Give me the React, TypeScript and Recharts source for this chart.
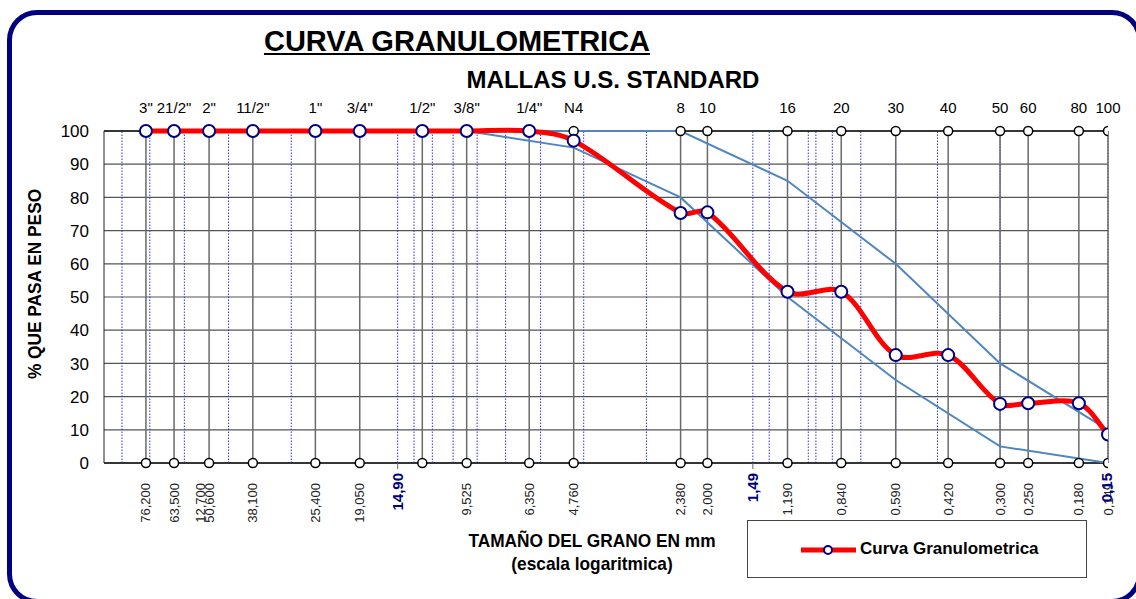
import React from 'react'
import {
  ComposedChart, Line, Scatter, XAxis, YAxis, CartesianGrid, ReferenceLine,
} from 'recharts'

const FONT = "'Liberation Sans', Arial, Helvetica, sans-serif"
const NAVY = '#000080'

// mallas (tamices) y su abertura en mm
const sieveNames = ['3"', '21/2"', '2"', '11/2"', '1"', '3/4"', '1/2"', '3/8"', '1/4"', 'N4', '8', '10', '16', '20', '30', '40', '50', '60', '80', '100']
const sieveSizes = [76.2, 63.5, 50.6, 38.1, 25.4, 19.05, 12.7, 9.525, 6.35, 4.76, 2.38, 2.0, 1.19, 0.84, 0.59, 0.42, 0.3, 0.25, 0.18, 0.149]
const sizeLabels = ['76,200', '63,500', '50,600', '38,100', '25,400', '19,050', '12,700', '9,525', '6,350', '4,760', '2,380', '2,000', '1,190', '0,840', '0,590', '0,420', '0,300', '0,250', '0,180', '0,149']
// % que pasa
const passing = [100, 100, 100, 100, 100, 100, 100, 100, 100, 97.1, 75.3, 75.5, 51.6, 51.6, 32.5, 32.5, 17.8, 18.0, 18.0, 8.6]

// limites (huso)
const limitSizes = [9.525, 4.76, 2.38, 1.19, 0.59, 0.3, 0.149]
const lowerLimit = [100, 95, 80, 50, 25, 5, 0]
const upperLimit = [100, 100, 100, 85, 60, 30, 10]

// D60 / D30 / D10 marcados en azul
const dSizes = [14.9, 1.49, 0.15]
const dLabels = ['14,90', '1,49', '0,15']

// lineas punteadas azules
const minorLines = [89, 74.3, 59.4, 44.6, 29.7, 14.9, 13.4, 11.9, 10.4, 8.9, 7.4, 5.9, 4.46, 2.97, 1.49, 1.34, 1.19, 1.04, 0.99, 0.89, 0.74, 0.59, 0.45, 0.3, 0.149]

const yTicks = [0, 10, 20, 30, 40, 50, 60, 70, 80, 90, 100]

const curveData = sieveSizes.map((size, i) => ({ size, pct: passing[i] }))
const lowerData = limitSizes.map((size, i) => ({ size, pct: lowerLimit[i] }))
const upperData = limitSizes.map((size, i) => ({ size, pct: upperLimit[i] }))
const topDots = sieveSizes.map((size) => ({ size, pct: 100 }))
const bottomDots = sieveSizes.map((size) => ({ size, pct: 0 }))
const bottomTicks = [...sieveSizes.filter((s) => s !== 12.7), ...dSizes]

// suavizado tipo Excel: bezier con tangentes de vecinos, escaladas por largo de tramo
function smoothCurve(context: any) {
  let pts: number[][] = []
  const dist = (a: number[], b: number[]) => Math.hypot(b[0] - a[0], b[1] - a[1]) || 1e-6
  return {
    areaStart() {},
    areaEnd() {},
    lineStart() { pts = [] },
    point(x: number, y: number) { pts.push([+x, +y]) },
    lineEnd() {
      if (!pts.length) return
      context.moveTo(pts[0][0], pts[0][1])
      for (let i = 0; i < pts.length - 1; i++) {
        const p0 = pts[i - 1] || pts[i]
        const p1 = pts[i]
        const p2 = pts[i + 1]
        const p3 = pts[i + 2] || p2
        const d01 = i > 0 ? dist(p0, p1) : 0
        const d12 = dist(p1, p2)
        const d23 = i + 2 < pts.length ? dist(p2, p3) : 0
        const a = d12 / (d01 + d12) / 3
        const b = d12 / (d12 + d23) / 3
        context.bezierCurveTo(
          p1[0] + (p2[0] - p0[0]) * a, p1[1] + (p2[1] - p0[1]) * a,
          p2[0] - (p3[0] - p1[0]) * b, p2[1] - (p3[1] - p1[1]) * b,
          p2[0], p2[1],
        )
      }
    },
  }
}

const TopTick = ({ x, payload }: any) => {
  const i = sieveSizes.indexOf(payload.value)
  return (
    <text x={x} y={113} textAnchor="middle" fontSize={15} fontFamily={FONT} fill="#000">
      {sieveNames[i]}
    </text>
  )
}

const BottomTick = ({ x, payload }: any) => {
  const v = payload.value
  const d = dSizes.indexOf(v)
  if (d >= 0) {
    return (
      <g>
        {v !== 0.15 && <line x1={x} x2={x} y1={463} y2={469} stroke="#666" />}
        <text transform={`translate(${x},473) rotate(-90)`} textAnchor="end" dominantBaseline="central"
          fontSize={15} fontWeight="bold" fontFamily={FONT} fill={NAVY}>
          {dLabels[d]}
        </text>
      </g>
    )
  }
  const i = sieveSizes.indexOf(v)
  return (
    <g>
      {v === 50.6 && (
        <text transform={`translate(${x - 9},483) rotate(-90)`} textAnchor="end" dominantBaseline="central"
          fontSize={13} fontFamily={FONT} fill="#222">
          {sizeLabels[6]}
        </text>
      )}
      <text transform={`translate(${x},483) rotate(-90)`} textAnchor="end" dominantBaseline="central"
        fontSize={13} fontFamily={FONT} fill="#222">
        {sizeLabels[i]}
      </text>
    </g>
  )
}

const YTick = ({ y, payload }: any) => (
  <text x={89} y={y} dy="0.36em" textAnchor="end" fontSize={17} fontFamily={FONT} fill="#000">
    {payload.value}
  </text>
)

const ringDot = (props: any) => (
  <circle cx={props.cx} cy={props.cy} r={4.5} fill="#fff" stroke="#000" strokeWidth={1.5} />
)

export default function App() {
  const axisProps = {
    type: 'number' as const,
    dataKey: 'size',
    scale: 'log' as const,
    domain: [0.149, 100],
    reversed: true,
    allowDataOverflow: true,
    axisLine: false,
    tickLine: false,
    interval: 0 as const,
  }

  return (
    <div style={{ position: 'fixed', left: 0, top: 0, width: 1136, height: 599, overflow: 'hidden', background: '#fff', fontFamily: FONT }}>
      <div style={{ position: 'absolute', left: 7, top: 10, width: 1135, height: 594, border: `5px solid ${NAVY}`, borderRadius: 30, boxSizing: 'border-box' }} />

      <div style={{ position: 'absolute', left: 0, top: 0 }}>
        <ComposedChart width={1136} height={599} margin={{ top: 101, right: 28, bottom: 76, left: 44 }}>
          <CartesianGrid vertical={false} stroke="#555" strokeWidth={1.2} xAxisId="bottom" />
          <XAxis {...axisProps} xAxisId="top" orientation="top" height={30} ticks={sieveSizes} tick={<TopTick />} />
          <XAxis {...axisProps} xAxisId="bottom" orientation="bottom" height={60} ticks={bottomTicks} tick={<BottomTick />} />
          <YAxis dataKey="pct" type="number" domain={[0, 100]} ticks={yTicks} width={60} axisLine={{ stroke: '#222' }} tickLine={false} tick={<YTick />} />

          {minorLines.map((v) => (
            <ReferenceLine key={'m' + v} xAxisId="bottom" x={v} stroke="#3030ff" strokeDasharray="1.5 1.5" strokeWidth={1} />
          ))}
          {sieveSizes.map((v) => (
            <ReferenceLine key={'s' + v} xAxisId="bottom" x={v} stroke="#6a6a6a" strokeWidth={1.5} />
          ))}
          <ReferenceLine xAxisId="bottom" y={100} stroke="#111" strokeWidth={1.5} />
          <ReferenceLine xAxisId="bottom" y={0} stroke="#111" strokeWidth={1.5} />

          <Line xAxisId="bottom" data={lowerData} dataKey="pct" type="linear" stroke="#4f86c0" strokeWidth={2} dot={false} isAnimationActive={false} />
          <Line xAxisId="bottom" data={upperData} dataKey="pct" type="linear" stroke="#4f86c0" strokeWidth={2} dot={false} isAnimationActive={false} />

          <Scatter xAxisId="bottom" data={topDots} shape={ringDot} isAnimationActive={false} />
          <Scatter xAxisId="bottom" data={bottomDots} shape={ringDot} isAnimationActive={false} />

          <Line
            xAxisId="bottom"
            data={curveData}
            dataKey="pct"
            type={smoothCurve as any}
            stroke="#ff0000"
            strokeWidth={5}
            dot={{ r: 6, fill: '#fff', stroke: NAVY, strokeWidth: 2 }}
            isAnimationActive={false}
          />
        </ComposedChart>
      </div>

      <div style={{ position: 'absolute', left: 457, top: 24, transform: 'translateX(-50%)', fontSize: 29, fontWeight: 'bold', textDecoration: 'underline', whiteSpace: 'nowrap', lineHeight: '34px' }}>
        CURVA GRANULOMETRICA
      </div>
      <div style={{ position: 'absolute', left: 613, top: 66, transform: 'translateX(-50%)', fontSize: 24, fontWeight: 'bold', whiteSpace: 'nowrap', lineHeight: '28px' }}>
        MALLAS U.S. STANDARD
      </div>
      <div style={{ position: 'absolute', left: 35, top: 284, transform: 'translate(-50%,-50%) rotate(-90deg) scaleX(0.91)', fontSize: 19, fontWeight: 'bold', whiteSpace: 'nowrap' }}>
        % QUE PASA EN PESO
      </div>
      <div style={{ position: 'absolute', left: 592, top: 529, transform: 'translateX(-50%) scaleX(0.91)', fontSize: 19, fontWeight: 'bold', whiteSpace: 'nowrap', textAlign: 'center', lineHeight: '23px' }}>
        TAMAÑO DEL GRANO EN mm<br />(escala logaritmica)
      </div>

      <div style={{ position: 'absolute', left: 747, top: 520, width: 340, height: 58, border: '1px solid #444', boxSizing: 'border-box', background: '#fff' }}>
        <svg width={60} height={20} style={{ position: 'absolute', left: 50, top: 19 }}>
          <line x1={3} x2={58} y1={10} y2={10} stroke="#ff0000" strokeWidth={5} />
          <circle cx={30} cy={10} r={4} fill="#fff" stroke={NAVY} strokeWidth={2} />
        </svg>
        <div style={{ position: 'absolute', left: 112, top: 18, fontSize: 17, fontWeight: 'bold', whiteSpace: 'nowrap', lineHeight: '20px' }}>
          Curva Granulometrica
        </div>
      </div>
    </div>
  )
}
